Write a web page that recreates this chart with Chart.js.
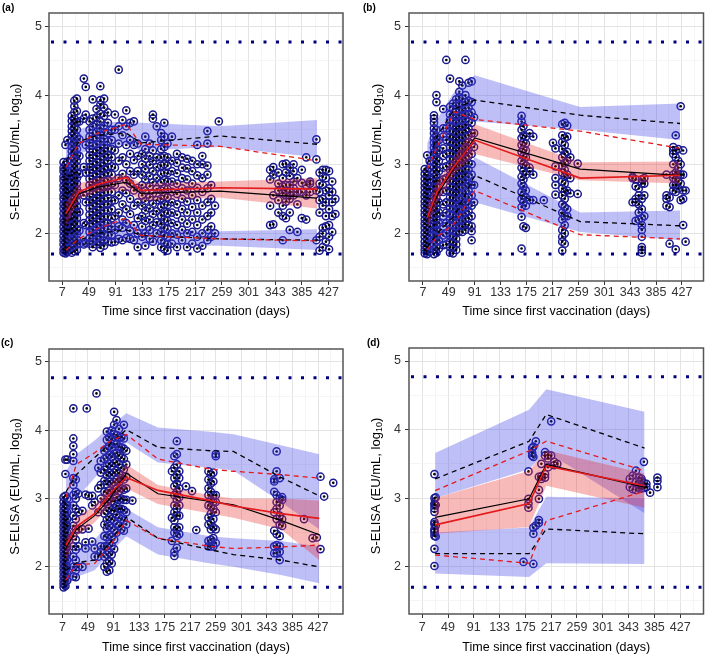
<!DOCTYPE html>
<html>
<head>
<meta charset="utf-8">
<script src="https://cdn.jsdelivr.net/npm/chart.js@4.4.1/dist/chart.umd.min.js"></script>
<style>
body { margin: 0; background: #fff; }
#wrap { position: relative; width: 709px; height: 654px; }
.panel { position: absolute; }
.tag { position: absolute; font: bold 10px "Liberation Sans", Arial, sans-serif; color: #000; }
</style>
</head>
<body>
<div id="wrap">
  <div class="panel" style="left:0;top:0"><canvas id="ca" width="354" height="327"></canvas></div>
  <div class="panel" style="left:354px;top:0"><canvas id="cb" width="355" height="327"></canvas></div>
  <div class="panel" style="left:0;top:327px"><canvas id="cc" width="354" height="327"></canvas></div>
  <div class="panel" style="left:354px;top:327px"><canvas id="cd" width="355" height="327"></canvas></div>
  <div class="tag" style="left:2px;top:2px">(a)</div>
  <div class="tag" style="left:363px;top:2px">(b)</div>
  <div class="tag" style="left:1px;top:337px">(c)</div>
  <div class="tag" style="left:367px;top:337px">(d)</div>
</div>
<script>
// axis ticks
const xMajor = [7, 49, 91, 133, 175, 217, 259, 301, 343, 385, 427];
const xMinor = [28, 70, 112, 154, 196, 238, 280, 322, 364, 406, 448];
const yMajor = [2, 3, 4, 5];
const yMinor = [1.5, 2.5, 3.5, 4.5];
const limitLines = [1.70, 4.77];

// ---- panel (a) ----
const binsA = [13, 33, 63, 108, 131, 256, 409];
const obsMedA = [2.29, 2.60, 2.71, 2.81, 2.62, 2.66, 2.64];
const simMedA = [2.25, 2.57, 2.67, 2.74, 2.58, 2.61, 2.51];
const obsHiA = [2.96, 3.30, 3.45, 3.58, 3.29, 3.26, 3.05];
const obsLoA = [1.76, 1.92, 2.07, 2.22, 1.97, 1.92, 1.89];
const simHiA = [3.05, 3.33, 3.42, 3.45, 3.31, 3.41, 3.29];
const simLoA = [1.78, 1.90, 2.00, 2.05, 1.97, 1.92, 1.90];
const medCiLoA = [2.10, 2.50, 2.60, 2.62, 2.47, 2.52, 2.36];
const medCiHiA = [2.45, 2.72, 2.80, 2.85, 2.72, 2.75, 2.80];
const hiCiLoA = [2.80, 3.15, 3.25, 3.28, 3.20, 3.25, 3.10];
const hiCiHiA = [3.30, 3.50, 3.60, 3.62, 3.60, 3.55, 3.64];
const loCiLoA = [1.70, 1.78, 1.85, 1.90, 1.83, 1.82, 1.76];
const loCiHiA = [1.95, 2.05, 2.15, 2.20, 2.08, 2.03, 2.06];
const obsA = [
  [9, [1.72,1.77,1.84,1.9,1.96,2.03,2.09,2.16,2.21,2.29,2.36,2.42,2.5,2.55,2.63,2.69,2.77,2.82,2.9,2.95,3.03]],
  [12, [1.71,1.75,1.8,1.87,1.93,2.0,2.06,2.13,2.19,2.26,2.32,2.39,2.45,2.53,2.59,2.66,2.72,2.79,2.86,2.92,2.99,3.28]],
  [15, [1.73,1.79,1.86,1.92,1.99,2.05,2.12,2.18,2.25,2.31,2.38,2.45,2.51,2.58,2.64,2.71,2.78,2.84,2.91,3.04,3.35]],
  [18, [1.76,1.9,2.05,2.2,2.42,2.6,2.83]],
  [22, [1.72,1.79,1.86,1.92,2.0,2.07,2.13,2.21,2.28,2.35,2.41,2.49,2.56,2.62,2.7,2.77,2.84,2.9,2.98,3.05,3.12,3.19,3.26,3.33,3.41,3.48,3.55,3.63,3.7]],
  [26, [1.74,1.81,1.89,1.95,2.03,2.1,2.17,2.24,2.31,2.38,2.45,2.52,2.59,2.66,2.73,2.8,2.87,2.94,3.01,3.08,3.15,3.22,3.3,3.37,3.44,3.52,3.59,3.66,3.75,3.84,3.92]],
  [30, [1.76,1.84,1.91,1.99,2.06,2.14,2.22,2.3,2.39,2.47,2.55,2.64,2.72,2.8,2.88,2.97,3.05,3.14,3.22,3.31,3.4,3.5,3.61,3.77,3.95]],
  [34, [1.85,2.04,2.31,2.58,2.86,3.12,3.36,3.62]],
  [41, [4.24,3.66,2.96,2.55,2.15,1.84]],
  [44, [4.12,3.72,3.28,2.88,2.45,2.12,1.86]],
  [50, [1.85,1.93,2.02,2.1,2.19,2.27,2.36,2.45,2.53,2.62,2.7,2.79,2.88,2.96,3.05,3.13,3.22,3.31,3.4,3.5,3.62]],
  [55, [1.8,1.88,1.97,2.05,2.14,2.22,2.31,2.4,2.48,2.57,2.66,2.74,2.83,2.92,3.0,3.09,3.18,3.27,3.36,3.45,3.55,3.66,3.94]],
  [61, [1.84,1.92,2.0,2.09,2.17,2.26,2.34,2.43,2.51,2.6,2.69,2.77,2.86,2.94,3.03,3.12,3.2,3.29,3.38,3.47,3.57,3.68,3.8]],
  [67, [1.79,1.87,1.95,2.04,2.12,2.21,2.29,2.38,2.47,2.55,2.64,2.72,2.81,2.9,2.98,3.07,3.16,3.24,3.33,3.42,3.52,3.62,3.73,3.86,3.93,4.13]],
  [73, [1.82,1.9,1.99,2.07,2.16,2.24,2.33,2.42,2.5,2.59,2.67,2.76,2.85,2.93,3.02,3.11,3.19,3.28,3.37,3.46,3.56,3.7,3.82,3.95]],
  [79, [1.88,1.97,2.06,2.15,2.24,2.33,2.42,2.51,2.6,2.69,2.78,2.87,2.96,3.05,3.14,3.23,3.33,3.45,3.6,3.75]],
  [85, [1.87,1.98,2.1,2.22,2.35,2.47,2.6,2.72,2.85,2.97,3.1,3.22,3.35,3.5]],
  [90, [1.88,2.05,2.25,2.48,2.7,2.95,3.2,3.5,3.72]],
  [96, [1.92,2.1,2.3,2.55,2.8,3.05,3.3,3.55,4.37]],
  [102, [1.9,2.08,2.2,2.42,2.62,2.86,3.1,3.42,3.64]],
  [108, [1.93,2.15,2.35,2.58,2.77,3.0,3.28,3.55,3.78]],
  [114, [1.92,2.04,2.28,2.5,2.72,2.9,3.15,3.35,3.6]],
  [120, [1.9,2.12,2.4,2.62,2.85,3.06,3.28,3.62]],
  [126, [1.8,2.0,2.22,2.45,2.66,2.9,3.12,3.3]],
  [133, [1.95,2.1,2.25,2.4,2.55,2.7,2.85,3.0,3.15]],
  [138, [1.82,2.0,2.18,2.33,2.47,2.62,2.78,2.93,3.08,3.22,3.4]],
  [145, [1.92,2.05,2.2,2.36,2.52,2.68,2.83,2.99,3.12,3.3]],
  [150, [1.88,2.12,2.28,2.43,2.58,2.74,2.9,3.05,3.2,3.66,3.72]],
  [156, [2.0,2.16,2.32,2.48,2.64,2.8,2.96,3.1,3.55]],
  [163, [1.8,1.9,2.02,2.14,2.26,2.38,2.5,2.62,2.74,2.86,2.98,3.1,3.22,3.35,3.45]],
  [168, [1.77,1.86,1.97,2.08,2.2,2.31,2.42,2.54,2.65,2.77,2.88,3.0,3.12,3.25,3.4,3.6]],
  [173, [1.75,1.84,1.95,2.06,2.18,2.29,2.41,2.52,2.64,2.75,2.87,2.98,3.1,3.3]],
  [180, [1.85,2.0,2.15,2.3,2.45,2.6,2.75,2.9,3.05,3.4]],
  [188, [1.8,1.98,2.12,2.27,2.42,2.57,2.72,2.87,3.02,3.15]],
  [196, [1.9,2.05,2.2,2.35,2.5,2.65,2.8,2.95,3.1]],
  [204, [1.8,2.0,2.14,2.3,2.46,2.62,2.78,2.94,3.08]],
  [212, [1.85,2.02,2.2,2.38,2.55,2.72,2.9,3.05]],
  [220, [1.78,1.95,2.12,2.3,2.48,2.66,2.84,3.0,3.28]],
  [228, [1.82,2.0,2.2,2.4,2.6,2.8,3.0,3.12]],
  [236, [1.9,2.05,2.25,2.45,2.65,2.85,2.98,3.3,3.48]],
  [242, [1.95,2.1,2.3,2.5,2.7]],
  [248, [2.0,2.4]],
  [254, [3.62]],
  [335, [2.12,2.4,2.78,2.92]],
  [340, [2.13,2.55,2.85,2.96]],
  [348, [2.3,2.48,2.62,2.72,2.88]],
  [355, [1.9,2.25,2.4,2.58,2.68,2.8,3.0]],
  [360, [2.22,2.46,2.55,2.62,2.7,2.88,3.01]],
  [366, [2.05,2.3,2.5,2.6,2.7,2.83,2.95]],
  [372, [2.55,2.65,2.75,2.9,3.0]],
  [378, [2.02,2.42,2.6,2.8]],
  [385, [2.22,2.6,2.73,2.92]],
  [392, [2.2,2.55,2.7,3.1]],
  [398, [2.6,2.72,2.75]],
  [408, [1.9,2.62,3.07,3.36]],
  [413, [1.75,1.95,2.3,2.48,2.6,2.72,2.88]],
  [418, [1.8,2.0,2.08,2.4,2.5,2.7,2.82,2.92]],
  [423, [1.88,2.1,2.25,2.45,2.62,2.8,2.92]],
  [428, [1.77,1.95,2.12,2.35,2.55,2.65,2.9]],
  [433, [2.02,2.25,2.45,2.6,2.75]],
  [438, [2.28,2.5]]
];

// ---- panel (b) ----
const binsB = [14, 30, 58, 91, 262, 424];
const obsMedB = [2.22, 2.60, 2.97, 3.35, 2.80, 2.84];
const simMedB = [2.20, 2.55, 2.95, 3.38, 2.93, 2.84];
const obsHiB = [2.92, 3.25, 3.76, 3.65, 3.48, 3.23];
const obsLoB = [1.76, 1.95, 2.14, 2.62, 1.98, 1.92];
const simHiB = [3.00, 3.40, 3.80, 3.93, 3.71, 3.59];
const simLoB = [1.80, 2.00, 2.25, 2.84, 2.17, 2.11];
const medCiLoB = [2.05, 2.45, 2.85, 3.15, 2.77, 2.72];
const medCiHiB = [2.40, 2.75, 3.10, 3.58, 3.03, 3.04];
const hiCiLoB = [2.80, 3.15, 3.55, 3.62, 3.50, 3.35];
const hiCiHiB = [3.30, 3.65, 4.05, 4.29, 3.83, 3.88];
const loCiLoB = [1.65, 1.80, 1.95, 2.45, 2.02, 1.90];
const loCiHiB = [1.95, 2.15, 2.45, 3.10, 2.30, 2.33];
const obsB = [
  [10, [1.71,1.76,1.82,1.88,1.95,2.01,2.08,2.14,2.2,2.27,2.33,2.4,2.46,2.53,2.59,2.66,2.72,2.79,2.86,2.93]],
  [14, [1.7,1.74,1.8,1.86,1.92,1.99,2.05,2.12,2.18,2.25,2.31,2.38,2.44,2.51,2.57,2.64,2.7,2.77,2.84,2.9,3.13]],
  [18, [1.73,1.85,1.97,2.1,2.23,2.36,2.5,2.64,2.78,2.95,3.05]],
  [25, [1.7,1.77,1.84,1.91,1.98,2.05,2.12,2.19,2.26,2.33,2.4,2.47,2.54,2.61,2.68,2.75,2.82,2.89,2.96,3.03,3.1,3.17,3.24,3.31,3.38,3.45,3.52,3.6,3.66,3.71]],
  [29, [1.72,1.8,1.88,1.96,2.04,2.12,2.2,2.28,2.36,2.44,2.52,2.6,2.68,2.76,2.84,2.92,3.0,3.08,3.16,3.24,3.32,3.4,3.5,3.9,4.0]],
  [33, [1.78,1.9,2.02,2.15,2.3,2.45,2.6,2.76,2.9,3.05,3.2,3.35]],
  [40, [1.83,1.97,2.1,2.25,2.42,2.6,2.78,2.95,3.12,3.23,3.4,3.52,3.8]],
  [45, [1.84,2.0,2.15,2.3,2.45,2.62,2.8,2.97,3.15,3.35,3.52,4.51]],
  [51, [1.72,1.8,1.88,1.96,2.04,2.12,2.2,2.28,2.36,2.44,2.52,2.6,2.68,2.76,2.84,2.92,3.0,3.08,3.16,3.24,3.32,3.4,3.48,3.56,3.64,3.72,3.83,4.24]],
  [56, [1.71,1.79,1.87,1.95,2.03,2.11,2.19,2.27,2.35,2.43,2.51,2.59,2.67,2.75,2.83,2.91,2.99,3.07,3.15,3.23,3.31,3.39,3.47,3.55,3.63,3.71,3.8,3.88]],
  [61, [1.76,1.84,1.92,2.0,2.08,2.16,2.24,2.32,2.4,2.48,2.56,2.64,2.72,2.8,2.88,2.96,3.04,3.12,3.2,3.28,3.36,3.44,3.52,3.6,3.68,3.76,3.85,3.94]],
  [66, [2.03,2.11,2.19,2.27,2.35,2.43,2.51,2.59,2.67,2.75,2.83,2.91,2.99,3.07,3.15,3.23,3.31,3.39,3.47,3.55,3.63,3.71,3.79,3.88,3.97,4.05,4.2]],
  [71, [2.02,2.1,2.18,2.26,2.34,2.42,2.5,2.58,2.66,2.74,2.82,2.9,2.98,3.06,3.14,3.22,3.3,3.38,3.46,3.54,3.62,3.7,3.78,3.86,3.95,4.14]],
  [76, [2.05,2.13,2.21,2.29,2.37,2.45,2.53,2.61,2.69,2.77,2.85,2.93,3.01,3.09,3.17,3.25,3.33,3.41,3.49,3.57,3.65,3.73,3.81,3.9,4.0,4.51]],
  [81, [2.12,2.22,2.32,2.42,2.52,2.62,2.72,2.82,2.92,3.02,3.12,3.22,3.32,3.42,3.52,3.62,3.72,3.82,3.92,4.18]],
  [86, [1.9,2.03,2.1,2.25,2.4,2.55,2.7,2.85,3.0,3.15,3.3,3.45,3.6,3.75,3.9,4.2]],
  [90, [2.45,2.7,3.25,3.45,3.68]],
  [167, [1.78,2.24,2.38,2.5,2.6,2.72,2.82,2.95,3.05,3.18,3.28,3.38,3.5,3.62,3.7]],
  [170, [2.1,2.45,2.55,2.68,2.78,2.9,3.0,3.12,3.22,3.32,3.42,3.55]],
  [174, [2.08,2.4,2.52,2.62,2.85,2.98,3.1,3.2,3.3,3.4]],
  [180, [2.48,2.9,2.95,3.45]],
  [186, [2.48,2.85,3.4]],
  [203, [2.48]],
  [218, [3.31]],
  [222, [2.56,2.7,2.8,2.97,3.23]],
  [233, [1.75,1.88,1.95,2.05,2.2,2.3,2.42,2.55,2.65,2.75,2.88,2.98,3.1,3.22,3.32,3.42,3.58]],
  [237, [1.85,2.0,2.12,2.25,2.38,2.5,2.6,2.72,2.82,2.92,3.02,3.15,3.28,3.38,3.6]],
  [241, [2.25,2.35,2.62,2.85,3.05,3.18,3.4,3.56]],
  [246, [2.58,2.8,3.1]],
  [258, [2.57,3.01]],
  [347, [2.45,2.8,2.82]],
  [352, [2.18,2.45,2.5,2.68,2.78]],
  [357, [2.2,2.3,2.42,2.55,2.65]],
  [362, [1.72,1.76,1.8,1.95,2.05,2.12,2.22,2.35,2.5,2.72,2.78]],
  [366, [2.25,2.55,2.72,2.8]],
  [402, [2.4,2.5,2.55,2.85]],
  [407, [1.85,2.38,2.52]],
  [413, [2.62,2.7,2.8,2.85,3.0,3.15,3.2,3.25]],
  [417, [1.77,2.6,2.7,2.78,2.88,3.1,3.2,3.42]],
  [421, [2.65,2.75,2.85,2.95,3.05,3.22]],
  [425, [2.48,2.72,2.85,3.0,3.84]],
  [429, [2.12,2.5,2.62,2.85,3.2]],
  [433, [1.88,2.62]]
];

// ---- panel (c) ----
const binsC = [13, 30, 60, 85, 112, 164, 250, 288, 366, 429];
const obsMedC = [2.32, 2.59, 2.78, 3.07, 3.31, 3.12, 2.97, 2.89, 2.78, 2.71];
const simMedC = [2.28, 2.55, 2.75, 3.00, 3.37, 3.07, 2.96, 2.91, 2.68, 2.47];
const obsHiC = [3.02, 3.50, 3.67, 3.84, 3.94, 3.58, 3.43, 3.40, 3.35, 3.30];
const obsLoC = [1.81, 2.03, 2.05, 2.30, 2.68, 2.42, 2.30, 2.27, 2.29, 2.32];
const simHiC = [3.10, 3.35, 3.60, 3.80, 4.01, 3.75, 3.70, 3.69, 3.31, 3.04];
const simLoC = [1.95, 2.06, 2.10, 2.35, 2.73, 2.42, 2.25, 2.18, 2.10, 2.00];
const medCiLoC = [2.10, 2.45, 2.65, 2.90, 3.15, 2.92, 2.78, 2.72, 2.55, 2.10];
const medCiHiC = [2.40, 2.72, 2.90, 3.20, 3.50, 3.20, 3.05, 3.00, 3.00, 2.97];
const hiCiLoC = [2.70, 3.00, 3.30, 3.55, 3.82, 3.53, 3.45, 3.41, 2.95, 2.55];
const hiCiHiC = [3.40, 3.65, 3.85, 4.05, 4.25, 4.04, 3.98, 3.94, 3.78, 3.65];
const loCiLoC = [1.75, 1.85, 1.95, 2.20, 2.45, 2.18, 2.05, 2.00, 1.88, 1.76];
const loCiHiC = [2.10, 2.25, 2.40, 2.65, 2.85, 2.58, 2.45, 2.42, 2.38, 2.30];
const obsC = [
  [9, [1.7,1.75,1.8,1.86,1.92,1.98,2.04,2.1,2.16,2.22,2.28,2.34,2.4,2.46,2.52,2.58,2.64,2.7,2.76,2.82,2.88,2.95,3.02]],
  [12, [1.72,1.78,1.84,1.9,1.96,2.02,2.08,2.14,2.2,2.26,2.32,2.38,2.44,2.5,2.56,2.62,2.68,2.74,2.8,2.86,2.92,3.04,3.36,3.57]],
  [15, [1.8,1.9,2.0,2.1,2.2,2.3,2.4,2.5,2.6,2.7,2.8,2.9,3.0,3.57]],
  [25, [1.86,2.0,2.15,2.3,2.45,2.6,2.75,2.9,3.05,3.2,3.3,3.55,3.65,3.77,3.88,4.32]],
  [29, [1.85,1.95,2.1,2.25,2.4,2.55,2.7,2.85,3.0,3.1,3.28]],
  [33, [2.0,2.3,2.55,2.8,3.07]],
  [40, [2.0,2.55,2.82]],
  [45, [2.27,2.36,3.06]],
  [47, [4.32]],
  [50, [2.56,3.04]],
  [56, [2.37,2.9,3.04]],
  [60, [2.15,2.27,2.95]],
  [63, [4.54]],
  [66, [2.15,2.8,3.15,3.45]],
  [70, [2.22,2.3,3.0,3.2,3.38,3.55]],
  [76, [2.0,2.15,2.3,2.45,2.62,2.78,2.94,3.1,3.26,3.42,3.58,3.7]],
  [80, [1.93,2.05,2.18,2.3,2.43,2.56,2.69,2.82,2.95,3.08,3.21,3.34,3.47,3.6,3.73,3.86,3.98]],
  [84, [1.95,2.08,2.21,2.34,2.47,2.6,2.73,2.86,2.99,3.12,3.25,3.38,3.51,3.64,3.77,3.9]],
  [88, [2.05,2.18,2.31,2.44,2.57,2.7,2.83,2.96,3.09,3.22,3.35,3.48,3.61,3.74,3.87,4.0]],
  [92, [2.26,2.4,2.54,2.68,2.82,2.96,3.1,3.24,3.38,3.52,3.66,3.8,3.94,4.08,4.27]],
  [96, [2.5,2.63,2.76,2.89,3.02,3.15,3.28,3.41,3.54,3.67,3.8,3.93,4.15]],
  [100, [2.6,2.72,2.85,2.98,3.11,3.24,3.37,3.5,3.63,3.76,3.89,4.02]],
  [104, [2.55,2.7,2.85,3.0,3.15,3.3,3.45,3.6,3.75,3.9]],
  [108, [2.53,2.68,2.83,2.98,3.13,3.28,3.43,3.58,3.73,3.88,4.08]],
  [112, [2.62,2.8,2.98,3.15,3.32,3.5,3.7]],
  [122, [2.97]],
  [187, [2.38,2.72,3.4]],
  [191, [2.16,2.22,2.5,2.58,2.68,2.8,2.9,3.05,3.18,3.3,3.45,3.62]],
  [195, [2.28,2.45,2.55,2.75,2.85,2.98,3.1,3.22,3.35,3.5,3.65,3.84]],
  [199, [2.48,2.58,2.75,2.9,3.02,3.15,3.3,3.4]],
  [210, [3.18]],
  [220, [3.11]],
  [227, [2.54]],
  [247, [2.3,2.38,2.62,2.72,2.9,3.05,3.15,3.28,3.4]],
  [251, [2.3,2.4,2.55,2.65,2.78,2.88,2.98,3.1,3.22,3.35]],
  [255, [2.3,2.42,2.58,2.7,2.85,2.95,3.05,3.25,3.38]],
  [259, [2.35,2.55,2.8,2.95,3.05,3.62,3.65]],
  [355, [2.2,2.3,2.53,2.8,3.1,3.25,3.28]],
  [359, [2.2,2.32,2.48,2.7,2.85,2.95,3.05,3.4,3.69]],
  [364, [2.1,2.22,2.3,2.45,2.62,2.75,2.9,3.0,3.3]],
  [368, [2.6,2.7,2.98,3.02]],
  [404, [2.7]],
  [418, [2.42]],
  [425, [2.43]],
  [431, [3.32,2.26]],
  [437, [3.03]],
  [452, [3.23]]
];

// ---- panel (d) ----
const binsD = [28, 181, 209, 369];
const obsMedD = [2.61, 2.92, 3.47, 3.18];
const simMedD = [2.72, 2.99, 3.49, 3.16];
const obsHiD = [3.11, 3.69, 3.83, 3.40];
const obsLoD = [2.17, 2.05, 2.67, 3.10];
const simHiD = [3.28, 3.83, 4.22, 3.73];
const simLoD = [2.19, 2.19, 2.55, 2.48];
const medCiLoD = [2.48, 2.58, 3.18, 2.86];
const medCiHiD = [3.00, 3.40, 3.70, 3.36];
const hiCiLoD = [3.00, 3.42, 3.68, 2.78];
const hiCiHiD = [3.66, 4.29, 4.59, 4.26];
const loCiLoD = [1.90, 1.85, 2.05, 2.04];
const loCiHiD = [2.50, 2.57, 3.02, 3.00];
const obsD = [
  [27, [2.01,2.26,2.45,2.5,2.52,2.55,2.62,2.65,2.8,2.85,2.9,2.92,3.0,3.35]],
  [29, [2.44,2.6,2.9,3.01]],
  [172, [2.07]],
  [180, [2.86,2.92,2.99,3.39]],
  [186, [3.62,3.66,3.73]],
  [188, [2.04,2.48,2.57,3.6,3.75]],
  [192, [2.6,3.83]],
  [197, [2.64,2.68,2.99,3.12,3.31]],
  [201, [3.28,3.32,3.5]],
  [207, [3.3,3.35,3.62,3.67]],
  [212, [3.45,3.58,3.63]],
  [217, [3.62,4.12]],
  [222, [3.53,3.48]],
  [227, [3.5]],
  [345, [3.16,3.28]],
  [350, [3.13,3.33]],
  [355, [3.12,3.24,3.4]],
  [360, [3.15,3.2,3.3]],
  [364, [3.14,3.2,3.25,3.28]],
  [368, [3.15,3.22,3.53]],
  [372, [3.16,3.21]],
  [378, [3.08]],
  [390, [3.16,3.25,3.3]]
];

Chart.defaults.font.family = '"Liberation Sans", Arial, sans-serif';
Chart.defaults.font.size = 12.5;
Chart.defaults.color = '#333';

const BLUE = 'rgba(60, 60, 235, 0.33)';
const PINK = 'rgba(232, 36, 36, 0.32)';
const RED = '#e41a1c';

function points(cols) {
  const out = [];
  cols.forEach(([x, ys]) => ys.forEach(y => out.push({x: x, y: y})));
  return out;
}

let ord = 40;
function line(xs, ys, color, width, dash, fill, bg) {
  return {
    type: 'line',
    data: xs.map((x, i) => ({x: x, y: ys[i]})),
    borderColor: color,
    borderWidth: width,
    borderDash: dash || [],
    pointRadius: 0,
    tension: 0,
    fill: fill || false,
    backgroundColor: bg || 'rgba(0,0,0,0)',
    order: ord--
  };
}

// dotted limit lines, panel frame and the y title with its subscript
const frame = {
  id: 'frame',
  afterDatasetsDraw(chart) {
    const {ctx, chartArea: a, scales: {y}} = chart;
    ctx.save();
    ctx.strokeStyle = '#00007f';
    ctx.lineWidth = 3;
    ctx.setLineDash([3, 9.5]);
    limitLines.forEach(v => {
      const py = y.getPixelForValue(v);
      ctx.beginPath();
      ctx.moveTo(a.left + 2, py);
      ctx.lineTo(a.right, py);
      ctx.stroke();
    });
    ctx.restore();
  },
  afterDraw(chart, args, opts) {
    const {ctx, chartArea: a} = chart;
    ctx.save();
    ctx.strokeStyle = '#555';
    ctx.lineWidth = 1.5;
    ctx.strokeRect(a.left, a.top, a.right - a.left, a.bottom - a.top);
    ctx.restore();

    const main = 'S-ELISA (EU/mL, log', sub = '10', end = ')';
    const big = '13px "Liberation Sans", Arial, sans-serif';
    const small = '9px "Liberation Sans", Arial, sans-serif';
    ctx.save();
    ctx.translate(opts.titleX, (a.top + a.bottom) / 2 + 5);
    ctx.rotate(-Math.PI / 2);
    ctx.fillStyle = '#000';
    ctx.textBaseline = 'middle';
    ctx.textAlign = 'left';
    ctx.font = big;
    const w1 = ctx.measureText(main).width, w3 = ctx.measureText(end).width;
    ctx.font = small;
    const w2 = ctx.measureText(sub).width;
    let x0 = -(w1 + w2 + w3) / 2;
    ctx.font = big;
    ctx.fillText(main, x0, 0);
    ctx.font = small;
    ctx.fillText(sub, x0 + w1, 3.5);
    ctx.font = big;
    ctx.fillText(end, x0 + w1 + w2, 0);
    ctx.restore();
  }
};

function drawPanel(p) {
  ord = 40;
  const pts = points(p.obs);
  const datasets = [
    {type: 'scatter', data: pts, pointRadius: 3.6, pointBorderWidth: 1.5,
     pointBorderColor: '#1a1a90', pointBackgroundColor: 'rgba(0,0,0,0)', order: 60},
    {type: 'scatter', data: pts, pointRadius: 1.3, pointBorderWidth: 0,
     pointBackgroundColor: '#000', order: 59},
    line(p.bins, p.hiCi[0], 'rgba(0,0,0,0)', 0),
    line(p.bins, p.hiCi[1], 'rgba(0,0,0,0)', 0, null, '-1', BLUE),
    line(p.bins, p.loCi[0], 'rgba(0,0,0,0)', 0),
    line(p.bins, p.loCi[1], 'rgba(0,0,0,0)', 0, null, '-1', BLUE),
    line(p.bins, p.medCi[0], 'rgba(0,0,0,0)', 0),
    line(p.bins, p.medCi[1], 'rgba(0,0,0,0)', 0, null, '-1', PINK),
    line(p.bins, p.simHi, '#000', 1.3, [5, 4]),
    line(p.bins, p.simLo, '#000', 1.3, [5, 4]),
    line(p.bins, p.obsHi, RED, 1.3, [5, 4]),
    line(p.bins, p.obsLo, RED, 1.3, [5, 4]),
    line(p.bins, p.simMed, '#000', 1.2),
    line(p.bins, p.obsMed, RED, 1.6)
  ];
  const xTicks = xMajor.concat(xMinor).filter(v => v > p.xMin && v < p.xMax).sort((a, b) => a - b);
  const yTicks = yMajor.concat(yMinor).sort((a, b) => a - b);
  new Chart(document.getElementById(p.id), {
    type: 'scatter',
    data: {datasets: datasets},
    plugins: [frame],
    options: {
      responsive: false,
      animation: false,
      layout: {padding: {left: 0, top: p.top, right: p.W - p.right, bottom: 0}},
      plugins: {legend: {display: false}, tooltip: {enabled: false}, filler: {propagate: false},
                frame: {titleX: p.yTitleX}},
      scales: {
        x: {
          type: 'linear', min: p.xMin, max: p.xMax,
          afterBuildTicks: ax => { ax.ticks = xTicks.map(v => ({value: v})); },
          afterFit: s => { s.height = 327 - p.bottom; },
          border: {display: false},
          grid: {
            color: c => (c.tick && xMajor.includes(c.tick.value)) ? '#e4e4e4' : '#f0f0f0',
            lineWidth: c => (c.tick && xMajor.includes(c.tick.value)) ? 1 : 0.7,
            tickLength: 4,
            tickColor: c => (c.tick && xMajor.includes(c.tick.value)) ? '#333' : 'rgba(0,0,0,0)'
          },
          ticks: {autoSkip: false, maxRotation: 0, padding: p.xPad, color: '#333',
                  callback: v => xMajor.includes(v) ? String(v) : ''},
          title: {display: true, text: 'Time since first vaccination (days)', color: '#000',
                  font: {size: 12.5}, padding: {top: 0, bottom: p.xTitlePad}}
        },
        y: {
          type: 'linear', min: 1.31, max: 5.19,
          afterBuildTicks: ax => { ax.ticks = yTicks.map(v => ({value: v})); },
          afterFit: s => { s.width = p.left; },
          border: {display: false},
          grid: {
            color: c => (c.tick && yMajor.includes(c.tick.value)) ? '#e4e4e4' : '#f0f0f0',
            lineWidth: c => (c.tick && yMajor.includes(c.tick.value)) ? 1 : 0.7,
            tickLength: 4,
            tickColor: c => (c.tick && yMajor.includes(c.tick.value)) ? '#333' : 'rgba(0,0,0,0)'
          },
          ticks: {padding: p.yPad, color: '#333',
                  callback: v => yMajor.includes(v) ? String(v) : ''}
        }
      }
    }
  });
}

drawPanel({id: 'ca', W: 354, left: 49, top: 13, right: 343, bottom: 281, xMin: -14, xMax: 450,
  xPad: 0, xTitlePad: 7.5, yPad: 3, yTitleX: 15,
  obs: obsA, bins: binsA, obsMed: obsMedA, simMed: simMedA, obsHi: obsHiA, obsLo: obsLoA,
  simHi: simHiA, simLo: simLoA, medCi: [medCiLoA, medCiHiA], hiCi: [hiCiLoA, hiCiHiA], loCi: [loCiLoA, loCiHiA]});
drawPanel({id: 'cb', W: 355, left: 55, top: 13, right: 352, bottom: 281, xMin: -15.5, xMax: 462,
  xPad: 0, xTitlePad: 7.5, yPad: 4, yTitleX: 23,
  obs: obsB, bins: binsB, obsMed: obsMedB, simMed: simMedB, obsHi: obsHiB, obsLo: obsLoB,
  simHi: simHiB, simLo: simLoB, medCi: [medCiLoB, medCiHiB], hiCi: [hiCiLoB, hiCiHiB], loCi: [loCiLoB, loCiHiB]});
drawPanel({id: 'cc', W: 354, left: 49, top: 22, right: 343, bottom: 287, xMin: -15, xMax: 468,
  xPad: 2, xTitlePad: -1, yPad: 3, yTitleX: 15,
  obs: obsC, bins: binsC, obsMed: obsMedC, simMed: simMedC, obsHi: obsHiC, obsLo: obsLoC,
  simHi: simHiC, simLo: simLoC, medCi: [medCiLoC, medCiHiC], hiCi: [hiCiLoC, hiCiHiC], loCi: [loCiLoC, loCiHiC]});
drawPanel({id: 'cd', W: 355, left: 55, top: 21, right: 353, bottom: 287, xMin: -14.5, xMax: 465,
  xPad: 2, xTitlePad: -1, yPad: 4, yTitleX: 22.5,
  obs: obsD, bins: binsD, obsMed: obsMedD, simMed: simMedD, obsHi: obsHiD, obsLo: obsLoD,
  simHi: simHiD, simLo: simLoD, medCi: [medCiLoD, medCiHiD], hiCi: [hiCiLoD, hiCiHiD], loCi: [loCiLoD, loCiHiD]});
</script>
</body>
</html>
